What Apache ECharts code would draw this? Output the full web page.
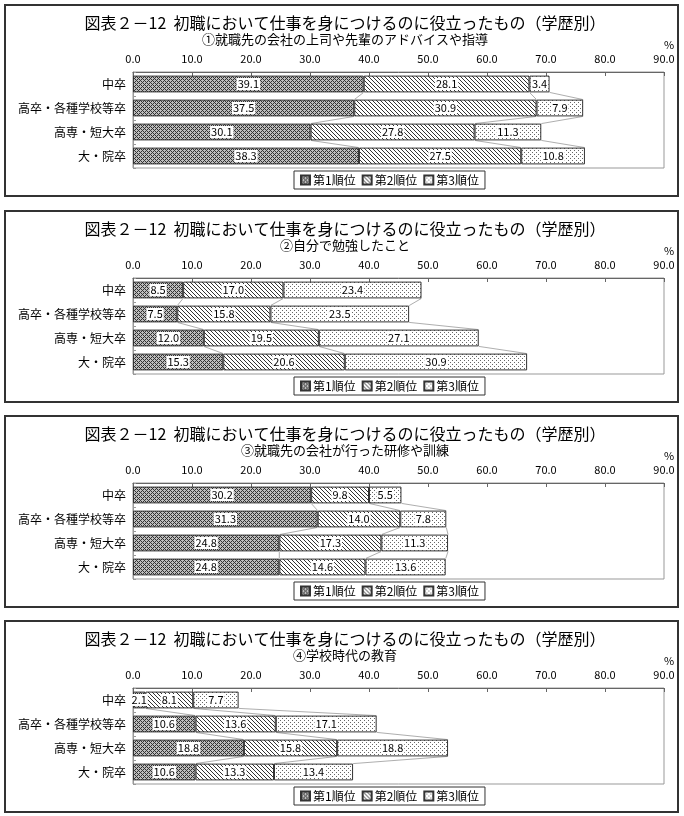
<!DOCTYPE html>
<html>
<head>
<meta charset="utf-8">
<script src="https://cdn.jsdelivr.net/npm/echarts@6/dist/echarts.min.js"></script>
<style>
html,body{margin:0;padding:0;background:#fff;}
#chart{width:684px;height:816px;}
</style>
</head>
<body>
<div id="chart"></div>
<script>
// ---- data ----
const categories = ['中卒', '高卒・各種学校等卒', '高専・短大卒', '大・院卒'];
const seriesNames = ['第1順位', '第2順位', '第3順位'];
const mainTitle = '図表２－12  初職において仕事を身につけるのに役立ったもの（学歴別）';
const subTitles = [
  '①就職先の会社の上司や先輩のアドバイスや指導',
  '②自分で勉強したこと',
  '③就職先の会社が行った研修や訓練',
  '④学校時代の教育'
];
const xMin = 0, xMax = 90, xStep = 10;
const unitLabel = '%';

// panel 1
const p1Rank1 = [39.1, 37.5, 30.1, 38.3];
const p1Rank2 = [28.1, 30.9, 27.8, 27.5];
const p1Rank3 = [3.4, 7.9, 11.3, 10.8];
// panel 2
const p2Rank1 = [8.5, 7.5, 12.0, 15.3];
const p2Rank2 = [17.0, 15.8, 19.5, 20.6];
const p2Rank3 = [23.4, 23.5, 27.1, 30.9];
// panel 3
const p3Rank1 = [30.2, 31.3, 24.8, 24.8];
const p3Rank2 = [9.8, 14.0, 17.3, 14.6];
const p3Rank3 = [5.5, 7.8, 11.3, 13.6];
// panel 4
const p4Rank1 = [2.1, 10.6, 18.8, 10.6];
const p4Rank2 = [8.1, 13.6, 15.8, 13.3];
const p4Rank3 = [7.7, 17.1, 18.8, 13.4];

const panels = [
  [p1Rank1, p1Rank2, p1Rank3],
  [p2Rank1, p2Rank2, p2Rank3],
  [p3Rank1, p3Rank2, p3Rank3],
  [p4Rank1, p4Rank2, p4Rank3]
];

// ---- layout ----
const FONT = "'Noto Sans CJK JP', 'Noto Sans', sans-serif";
const tops = [5, 211, 416, 621];
const panelH = 191;

function makePattern(size, bg, fg, test) {
  const c = document.createElement('canvas');
  c.width = size; c.height = size;
  const ctx = c.getContext('2d');
  ctx.fillStyle = bg; ctx.fillRect(0, 0, size, size);
  ctx.fillStyle = fg;
  for (let x = 0; x < size; x++) for (let y = 0; y < size; y++) {
    if (test(x, y)) ctx.fillRect(x, y, 1, 1);
  }
  return { image: c, repeat: 'repeat' };
}
const patterns = [
  makePattern(4, '#bdbdbd', '#333', (x, y) => (x + y) % 4 === 0 || (x - y + 4) % 4 === 0),
  makePattern(4, '#ffffff', '#333', (x, y) => (x - y + 4) % 4 === 0),
  makePattern(4, '#ffffff', '#666', (x, y) => (x === 0 && y === 0) || (x === 2 && y === 2))
];

const grid = [], xAxis = [], yAxis = [], series = [], legend = [], title = [], graphic = [];

panels.forEach((ranks, k) => {
  const T = tops[k];
  grid.push({ left: 133, width: 531, top: T + 67, height: 96, show: true, borderColor: '#999', borderWidth: 1, backgroundColor: '#fff' });
  xAxis.push({
    gridIndex: k, type: 'value', position: 'top', min: xMin, max: xMax, interval: xStep,
    axisLine: { show: true, lineStyle: { color: '#666' } },
    axisTick: { show: true, inside: true, length: 4, lineStyle: { color: '#666' } },
    splitLine: { show: false },
    axisLabel: { formatter: v => v.toFixed(1), fontSize: 11, color: '#000', margin: 8, fontFamily: FONT }
  });
  yAxis.push({
    gridIndex: k, type: 'category', data: categories, inverse: true,
    axisLine: { show: true, lineStyle: { color: '#999' } },
    axisTick: { show: true, inside: true, length: 3, lineStyle: { color: '#999' } },
    axisLabel: { fontSize: 12, color: '#000', margin: 7, fontFamily: FONT }
  });
  ranks.forEach((vals, s) => {
    series.push({
      type: 'bar', name: seriesNames[s], xAxisIndex: k, yAxisIndex: k, stack: 'st' + k,
      data: vals, barCategoryGap: '30%', animation: false,
      emphasis: { disabled: true },
      itemStyle: { color: patterns[s], borderColor: '#333', borderWidth: 1 },
      label: {
        show: true, position: 'inside', formatter: p => p.value.toFixed(1),
        color: '#000', fontSize: 11, fontFamily: FONT,
        backgroundColor: '#fff', padding: [1, 1, 0, 1]
      }
    });
  });
  // series lines connecting cumulative ends
  const lineData = [];
  for (let s = 0; s < 3; s++) {
    for (let i = 0; i < categories.length - 1; i++) {
      let a = 0, b = 0;
      for (let t = 0; t <= s; t++) { a += ranks[t][i]; b += ranks[t][i + 1]; }
      lineData.push([a, i, b, i + 1]);
    }
  }
  series.push({
    type: 'custom', xAxisIndex: k, yAxisIndex: k, silent: true, animation: false, z: 1,
    encode: { x: [0, 2], y: [1, 3] },
    data: lineData,
    renderItem: (params, api) => {
      const p1 = api.coord([api.value(0), api.value(1)]);
      const p2 = api.coord([api.value(2), api.value(3)]);
      const h = api.size([0, 1])[1] * 0.35;
      return {
        type: 'line',
        shape: { x1: p1[0], y1: p1[1] + h, x2: p2[0], y2: p2[1] - h },
        style: { stroke: '#999', lineWidth: 0.8 }
      };
    }
  });
  legend.push({
    data: seriesNames, left: 294, top: T + 166, orient: 'horizontal',
    itemWidth: 9, itemHeight: 9, itemGap: 6, padding: [3, 6],
    borderColor: '#333', borderWidth: 1, backgroundColor: '#fff',
    icon: 'rect', selectedMode: false,
    textStyle: { fontSize: 12, color: '#000', fontFamily: FONT, padding: [0, 0, 0, -2] }
  });
  title.push({
    text: mainTitle, left: 345, textAlign: 'center', top: T + 10, padding: 0,
    textStyle: { fontSize: 16, fontWeight: 'normal', color: '#000', fontFamily: FONT }
  });
  title.push({
    text: subTitles[k], left: 345, textAlign: 'center', top: T + 28, padding: 0,
    textStyle: { fontSize: 13, fontWeight: 'normal', color: '#000', fontFamily: FONT }
  });
  graphic.push({
    type: 'rect', silent: true, z: 100,
    shape: { x: 5, y: T, width: 673, height: panelH },
    style: { fill: 'none', stroke: '#333', lineWidth: 2 }
  });
  graphic.push({
    type: 'text', silent: true, x: 669, y: T + 40,
    style: { text: unitLabel, fontSize: 11, fill: '#000', textAlign: 'center', textVerticalAlign: 'middle', fontFamily: FONT }
  });
});

const chart = echarts.init(document.getElementById('chart'), null, { renderer: 'canvas' });
chart.setOption({
  backgroundColor: '#fff',
  animation: false,
  textStyle: { fontFamily: FONT },
  title, grid, xAxis, yAxis, series, legend, graphic
});
</script>
</body>
</html>
